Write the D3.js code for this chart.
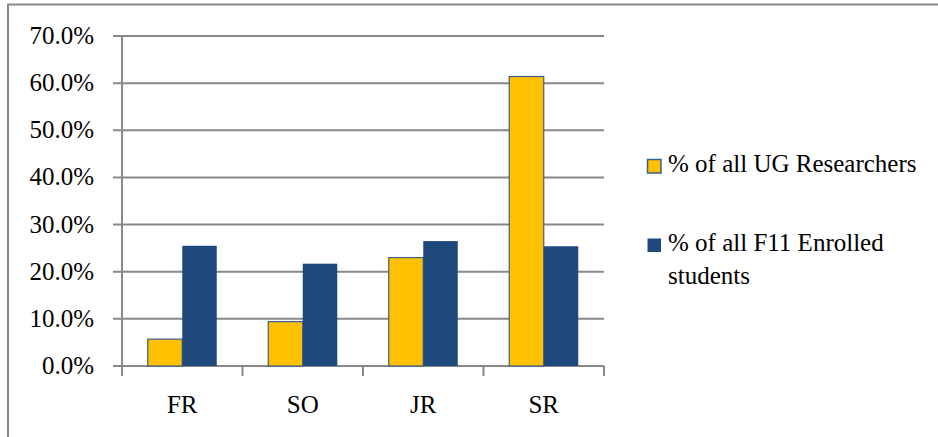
<!DOCTYPE html>
<html>
<head>
<meta charset="utf-8">
<script src="https://cdn.jsdelivr.net/npm/d3@7"></script>
<style>
    body { margin: 0; background: #fff; }
</style>
</head>
<body>
<script>
const categories = ["FR", "SO", "JR", "SR"];
const seriesNames = ["% of all UG Researchers", "% of all F11 Enrolled students"];
const researchers = [5.7, 9.4, 23.0, 61.4];
const enrolled = [25.5, 21.7, 26.5, 25.4];
const yTicks = [0, 10, 20, 30, 40, 50, 60, 70];

const width = 938;
const height = 437;
const margin = { top: 36, left: 122, right: 334, bottom: 71 };
const FONT = "'Liberation Serif', 'Times New Roman', 'DejaVu Serif', serif";

const COLORS = {
    RESEARCHERS: "#FFC000",
    ENROLLED: "#1F497D",
    GRID: "#888888",
};

const svg = d3.select("body")
    .append("svg")
    .attr("width", width)
    .attr("height", height)
    .attr("font-family", FONT)
    .style("font-family", FONT);

// outer frame
svg.append("rect")
    .attr("x", 8)
    .attr("y", 4.5)
    .attr("width", width)
    .attr("height", height)
    .attr("fill", "none")
    .attr("stroke", COLORS.GRID)
    .attr("stroke-width", 2);

const x0 = d3.scaleBand()
    .domain(categories)
    .range([margin.left, width - margin.right]);

const x1 = d3.scaleBand()
    .domain(seriesNames)
    .range([0, x0.bandwidth()])
    .paddingOuter(0.746);

const y = d3.scaleLinear()
    .domain([0, 70])
    .range([height - margin.bottom, margin.top]);

// gridlines
svg.append("g")
    .selectAll("line")
    .data(yTicks)
    .enter()
    .append("line")
    .attr("x1", margin.left - 9)
    .attr("x2", width - margin.right)
    .attr("y1", d => y(d))
    .attr("y2", d => y(d))
    .attr("stroke", COLORS.GRID)
    .attr("stroke-width", 2);

svg.append("g")
    .selectAll("text")
    .data(yTicks)
    .enter()
    .append("text")
    .attr("x", 94)
    .attr("y", d => y(d))
    .attr("dy", "0.32em")
    .attr("text-anchor", "end")
    .style("font-size", "25px")
    .style("font-family", FONT)
    .text(d => d.toFixed(1) + "%");

// x axis ticks at category boundaries
const boundaries = categories.map(c => x0(c)).concat([width - margin.right]);
svg.append("g")
    .selectAll("line")
    .data(boundaries)
    .enter()
    .append("line")
    .attr("x1", d => d)
    .attr("x2", d => d)
    .attr("y1", y(0))
    .attr("y2", y(0) + 10)
    .attr("stroke", COLORS.GRID)
    .attr("stroke-width", 2);

// y axis line
svg.append("line")
    .attr("x1", margin.left)
    .attr("x2", margin.left)
    .attr("y1", y(70))
    .attr("y2", y(0) + 10)
    .attr("stroke", COLORS.GRID)
    .attr("stroke-width", 2);

const rows = categories.map((c, i) => ({ category: c, values: [researchers[i], enrolled[i]] }));

const groups = svg.append("g")
    .selectAll("g")
    .data(rows)
    .enter()
    .append("g")
    .attr("transform", d => `translate(${x0(d.category)},0)`);

groups.selectAll("rect")
    .data(d => d.values.map((v, i) => ({ key: seriesNames[i], value: v, i })))
    .enter()
    .append("rect")
    .attr("x", d => x1(d.key))
    .attr("y", d => y(d.value))
    .attr("width", x1.bandwidth())
    .attr("height", d => y(0) - y(d.value))
    .attr("fill", d => d.i === 0 ? COLORS.RESEARCHERS : COLORS.ENROLLED)
    .attr("stroke", d => d.i === 0 ? "#3A5F8C" : "none")
    .attr("stroke-width", 1.2);

svg.append("g")
    .selectAll("text")
    .data(categories)
    .enter()
    .append("text")
    .attr("x", d => x0(d) + x0.bandwidth() / 2)
    .attr("y", 413)
    .attr("text-anchor", "middle")
    .style("font-size", "25px")
    .style("font-family", FONT)
    .text(d => d);

// legend
const legend = svg.append("g");
const legendItems = [
    { color: COLORS.RESEARCHERS, stroke: "#3A5F8C", y: 166, lines: ["% of all UG Researchers"] },
    { color: COLORS.ENROLLED, stroke: "none", y: 245, lines: ["% of all F11 Enrolled", "students"] },
];

legend.selectAll("rect")
    .data(legendItems)
    .enter()
    .append("rect")
    .attr("x", 647.5)
    .attr("y", d => d.y - 6.5)
    .attr("width", 13.5)
    .attr("height", 13.5)
    .attr("fill", d => d.color)
    .attr("stroke", d => d.stroke)
    .attr("stroke-width", 1.5);

legend.selectAll("text")
    .data(legendItems)
    .enter()
    .append("text")
    .attr("x", 668)
    .attr("y", d => d.y + 6)
    .style("font-size", "25px")
    .style("font-family", FONT)
    .each(function (d) {
        d3.select(this)
            .selectAll("tspan")
            .data(d.lines)
            .enter()
            .append("tspan")
            .attr("x", 668)
            .attr("dy", (l, i) => i === 0 ? 0 : 33)
            .text(l => l);
    });
</script>
</body>
</html>
